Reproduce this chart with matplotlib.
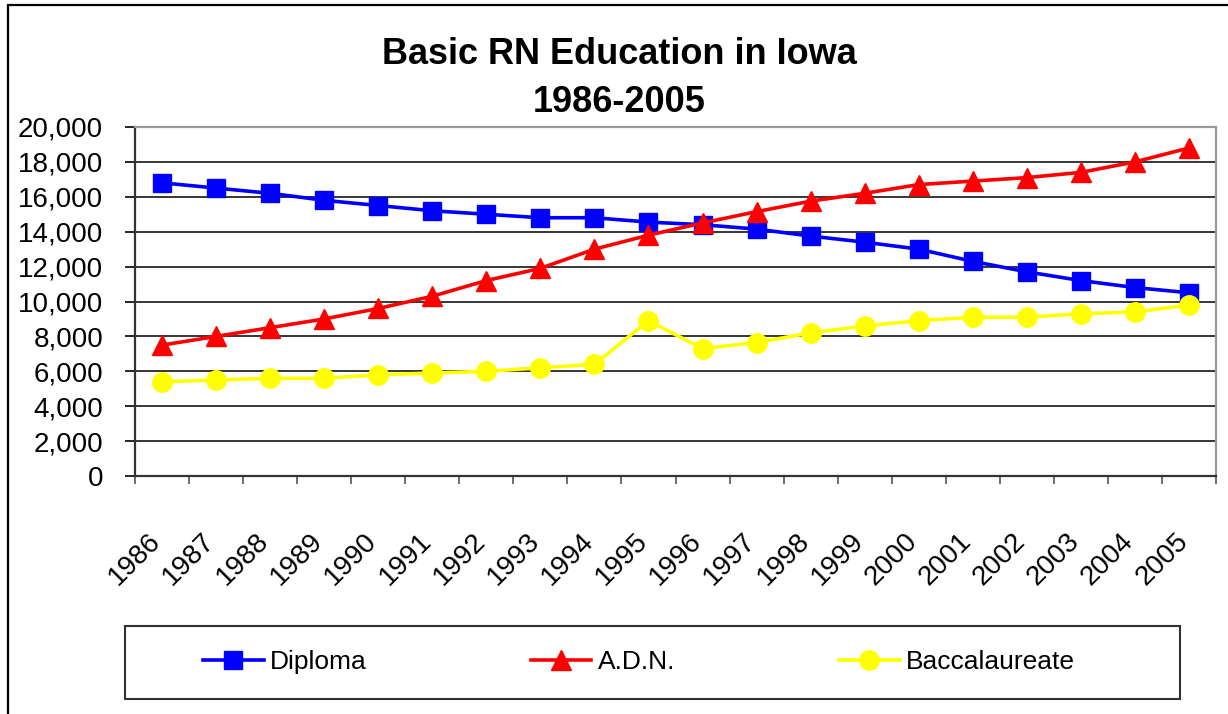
import matplotlib
matplotlib.use("Agg")
import matplotlib.pyplot as plt
import matplotlib.transforms as mtransforms
from matplotlib.patches import Rectangle

plt.rcParams["font.family"] = ["Liberation Sans", "DejaVu Sans"]

years = [str(y) for y in range(1986, 2006)]
diploma = [16800, 16500, 16200, 15800, 15500, 15200, 15000, 14800, 14800, 14550,
           14400, 14150, 13750, 13400, 13000, 12300, 11700, 11200, 10800, 10500]
adn = [7500, 8000, 8500, 9000, 9600, 10300, 11200, 11900, 13000, 13800,
       14500, 15150, 15750, 16200, 16700, 16900, 17100, 17400, 18000, 18800]
bacc = [5400, 5500, 5600, 5600, 5800, 5900, 6000, 6200, 6400, 8900,
        7300, 7650, 8200, 8600, 8900, 9100, 9100, 9300, 9400, 9800]
yticks = list(range(0, 20001, 2000))

W, H = 1228, 714
fig = plt.figure(figsize=(W / 100, H / 100), dpi=100)
ax = fig.add_axes([135 / W, 1 - 476 / H, (1216 - 135) / W, (476 - 127) / H])

x = list(range(len(years)))
ax.plot(x, diploma, color="#0000FF", lw=2.6, marker="s", ms=13.5, label="Diploma")
ax.plot(x, adn, color="#FF0000", lw=2.6, marker="^", ms=15, label="A.D.N.")
ax.plot(x, bacc, color="#FFFF00", lw=2.6, marker="o", ms=14, label="Baccalaureate")

ax.set_xlim(-0.5, len(years) - 0.5)
ax.set_ylim(0, 20000)
ax.set_yticks(yticks)
ax.set_yticklabels([f"{v:,}" for v in yticks])
ax.yaxis.grid(True, color="black", lw=1.1)
ax.set_axisbelow(True)
ax.tick_params(axis="y", direction="out", length=7, width=1.2, pad=16, labelsize=20)

ax.set_xticks(x)
ax.set_xticklabels(years, rotation=45, ha="right", va="center", rotation_mode="anchor")
ax.set_xticks([i - 0.5 for i in range(len(years) + 1)], minor=True)
ax.tick_params(axis="x", which="major", length=0, pad=44, labelsize=20)
ax.tick_params(axis="x", which="minor", direction="out", length=6, width=1.2, color="#555555")
shift = mtransforms.ScaledTranslation(-5 / 100, 0, fig.dpi_scale_trans)
for lab in ax.get_xticklabels():
    lab.set_transform(lab.get_transform() + shift)

for s in ["left", "bottom"]:
    ax.spines[s].set_color("#333333")
    ax.spines[s].set_linewidth(1.6)
for s in ["top", "right"]:
    ax.spines[s].set_color("#999999")
    ax.spines[s].set_linewidth(1.6)

fig.text(619 / W, 1 - 55 / H, "Basic RN Education in Iowa", ha="center", va="center",
         fontsize=26, fontweight="bold")
fig.text(619 / W, 1 - 102 / H, "1986-2005", ha="center", va="center",
         fontsize=26, fontweight="bold")

# outer chart border
fig.patches.append(Rectangle((8 / W, -0.1), 1.2, 1.1 - 5 / H, transform=fig.transFigure,
                             fill=False, ec="black", lw=1.6))
# legend box
fig.patches.append(Rectangle((125 / W, 1 - 699 / H), (1180 - 125) / W, (699 - 626) / H,
                             transform=fig.transFigure, fill=False, ec="#333333", lw=1.5))
fig.legend(loc="center left", bbox_to_anchor=(203 / W, 1 - 662 / H),
           ncol=3, frameon=False, fontsize=19, handlelength=2.3, columnspacing=6.2,
           handletextpad=0.25, borderpad=0, borderaxespad=0)

fig.savefig("out.png", dpi=100)
